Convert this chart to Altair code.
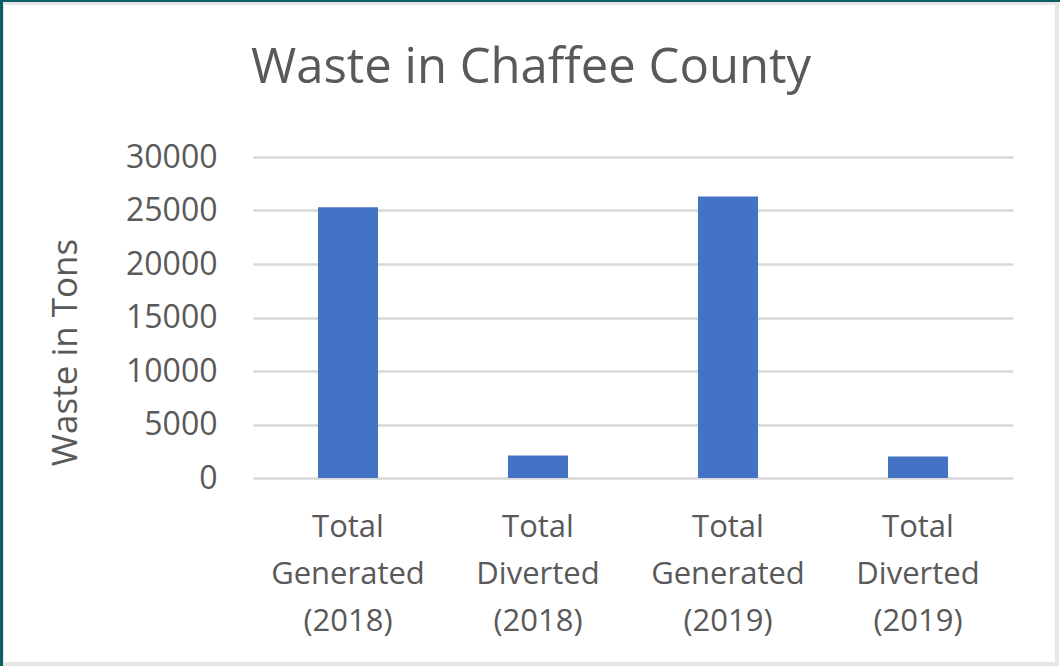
import altair as alt
import pandas as pd

categories = ["Total|Generated|(2018)", "Total|Diverted|(2018)",
              "Total|Generated|(2019)", "Total|Diverted|(2019)"]
values = [25300, 2100, 26300, 2000]
y_ticks = [0, 5000, 10000, 15000, 20000, 25000, 30000]
title_text = "Waste in Chaffee County"

df = pd.DataFrame({"category": categories, "tons": values})

FONT = "Open Sans"
GREY = "#595959"

W, H = 760, 321
PAD = {"left": 253, "top": 157, "right": 47, "bottom": 188}

bars = alt.Chart(df).mark_bar(color="#4472C4").encode(
    x=alt.X("category:N", sort=categories,
            scale=alt.Scale(paddingInner=0.684, paddingOuter=0.342),
            axis=alt.Axis(title=None, labelAngle=0, labelExpr="split(datum.label, '|')",
                          labelFont=FONT, labelFontSize=31, labelColor=GREY,
                          labelLineHeight=47, labelPadding=34, labelBaseline="top",
                          domain=False, ticks=False, grid=False)),
    y=alt.Y("tons:Q", scale=alt.Scale(domain=[0, 30000], nice=False),
            axis=alt.Axis(title="Waste in Tons", values=y_ticks, format="d",
                          titleFont=FONT, titleFontSize=35, titleFontWeight="normal",
                          titleColor=GREY, titleX=-188, titleY=195,
                          titleAlign="center", titleBaseline="middle", titleAngle=270,
                          labelFont=FONT, labelFontSize=32, labelColor=GREY,
                          labelPadding=36, domain=False, ticks=False,
                          grid=True, gridColor="#d9d9d9", gridWidth=2.5)),
)

title = alt.Chart(pd.DataFrame({"t": [title_text]})).mark_text(
    font=FONT, fontSize=49, color=GREY, align="center", baseline="alphabetic"
).encode(text="t:N", x=alt.value(278), y=alt.value(-74))

frame = alt.Chart(pd.DataFrame({"a": [0]})).mark_rect(
    fill=None, stroke="#e6e6e6", strokeWidth=4
).encode(
    x=alt.value(-PAD["left"] + 2), x2=alt.value(W + PAD["right"] - 3),
    y=alt.value(-PAD["top"] + 3), y2=alt.value(H + PAD["bottom"] - 2),
)

teal_left = alt.Chart(pd.DataFrame({"a": [0]})).mark_rule(
    color="#0b5e62", strokeWidth=3
).encode(
    x=alt.value(-PAD["left"] + 1.5), y=alt.value(-PAD["top"]), y2=alt.value(H + PAD["bottom"])
)
teal_top = alt.Chart(pd.DataFrame({"a": [0]})).mark_rule(
    color="#0b5e62", strokeWidth=2
).encode(
    y=alt.value(-PAD["top"] + 1), x=alt.value(-PAD["left"]), x2=alt.value(W + PAD["right"])
)

chart = alt.layer(bars, title, frame, teal_left, teal_top).properties(
    width=W, height=H,
    padding=PAD,
    autosize=alt.AutoSizeParams(type="none"),
    background="white",
).configure_view(stroke=None)

chart.save("out.html", embed_options={"renderer": "svg", "actions": False})
